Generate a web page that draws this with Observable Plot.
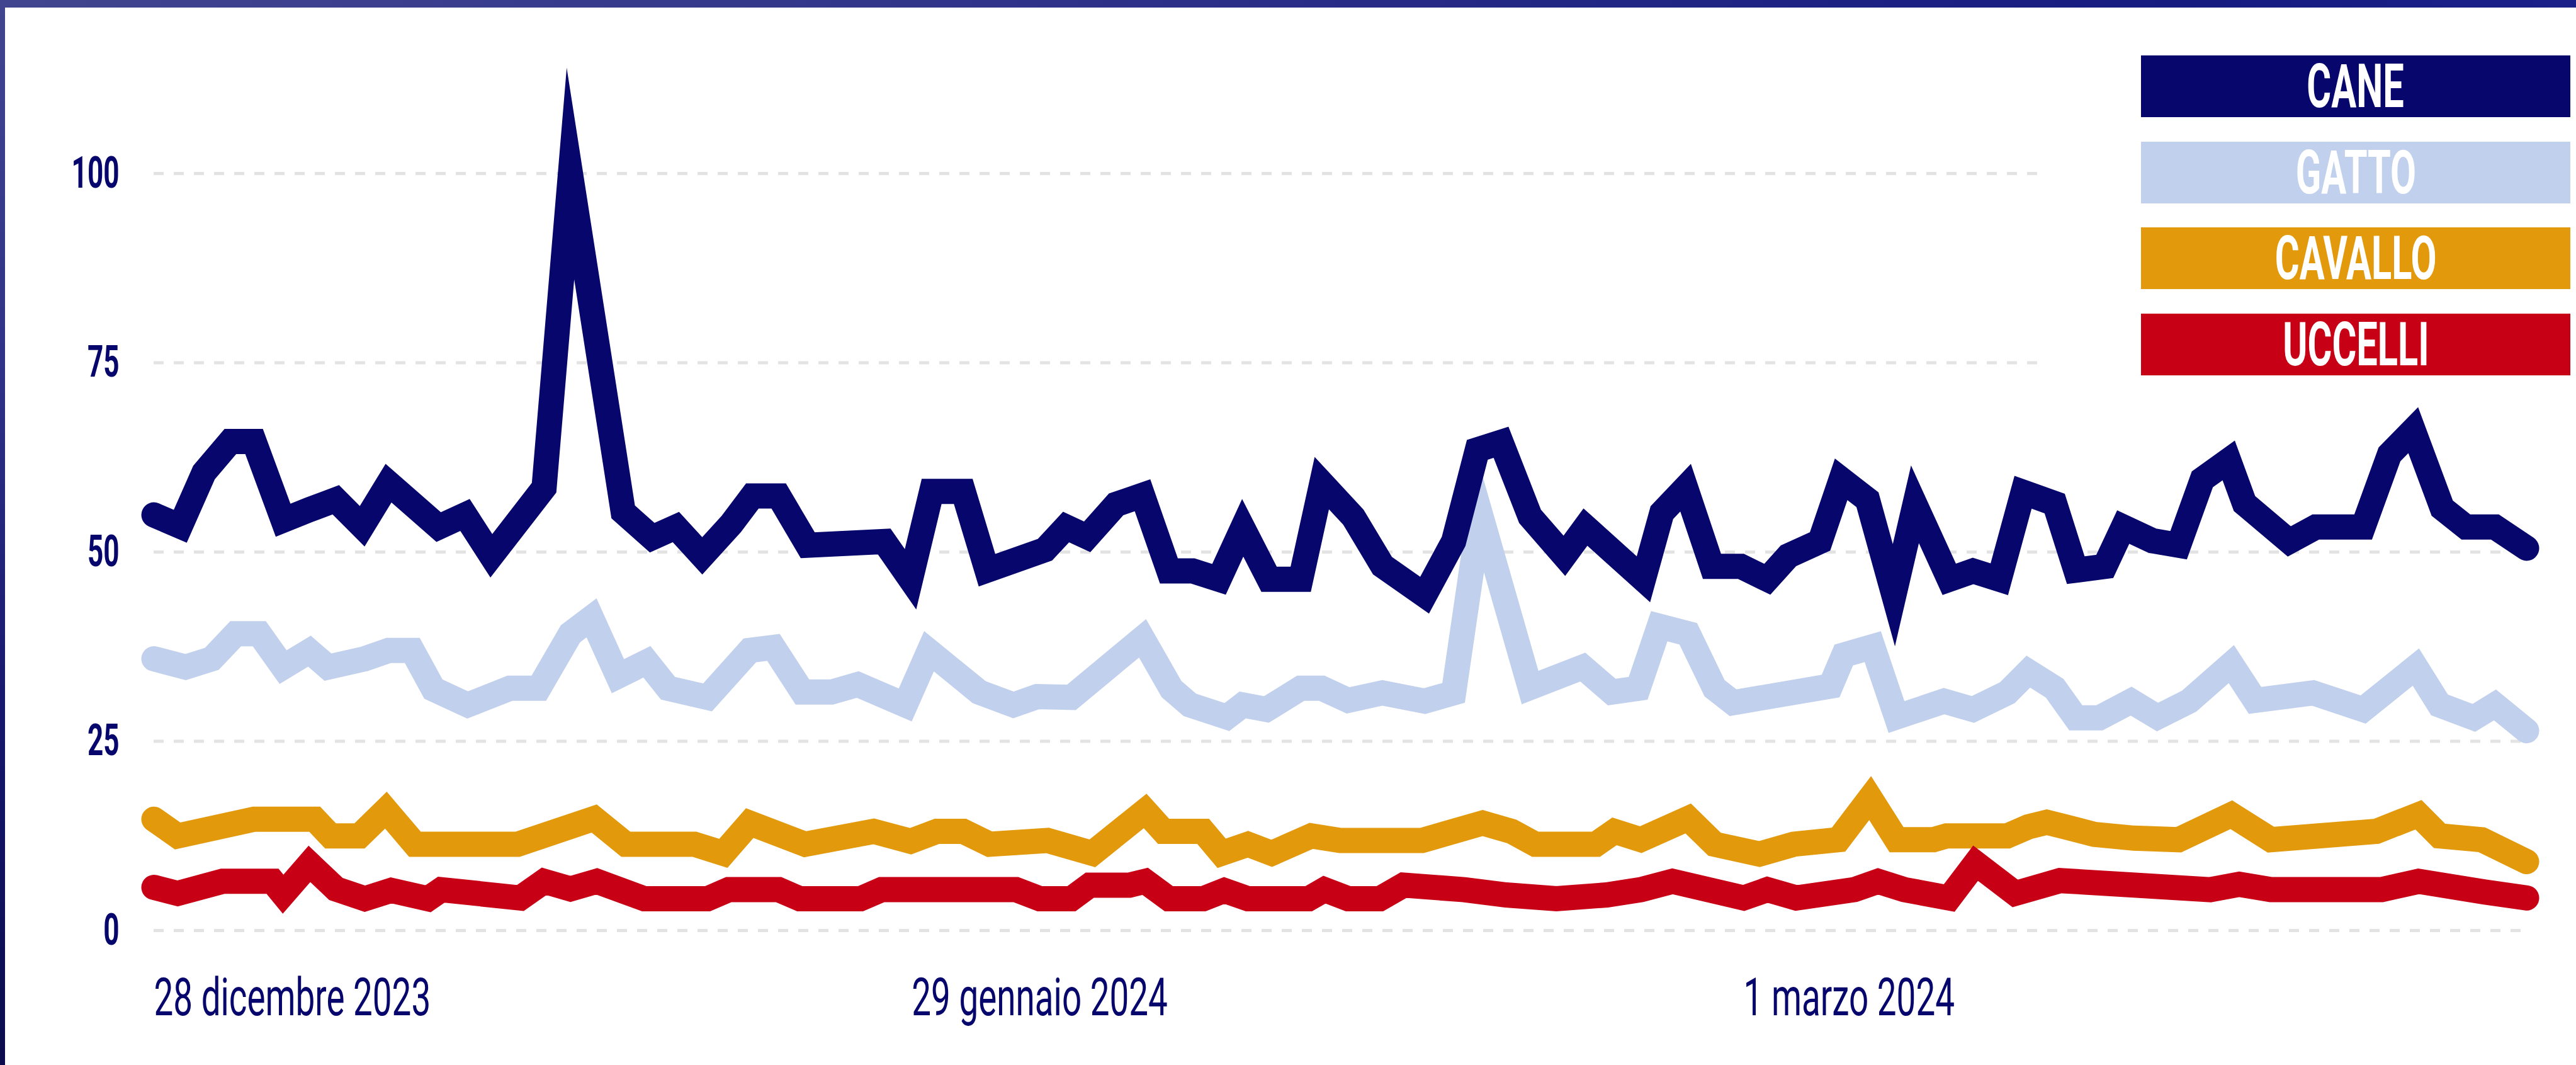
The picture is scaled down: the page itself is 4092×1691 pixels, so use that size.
<!DOCTYPE html>
<html>
<head>
<meta charset="utf-8">
<script src="https://cdn.jsdelivr.net/npm/d3@7"></script>
<script src="https://cdn.jsdelivr.net/npm/@observablehq/plot@0.6"></script>
<style>
  html, body { margin: 0; padding: 0; }
  body { width: 4092px; height: 1691px; position: relative; overflow: hidden; background: #ffffff; font-family: Roboto, sans-serif; }
  #chart { position: absolute; left: 0; top: 0; }
  #topbar { position: absolute; left: 0; top: 0; width: 4092px; height: 12px;
    background: linear-gradient(90deg, #41458f 0%, #34388b 30%, #232784 60%, #161b80 85%, #1a2088 100%); }
  #leftbar { position: absolute; left: 0; top: 0; width: 8px; height: 1691px;
    background: linear-gradient(180deg, #41458f 0%, #2e3186 35%, #15156a 70%, #0b0b4d 100%); }
  #legend { position: absolute; left: 3240px; top: 12px; width: 852px; height: 612px; background: #ffffff;
    box-sizing: border-box; padding: 76px 0 0 161px; display: flex; flex-direction: column; gap: 38.5px; }
  #legend .box { width: 682px; height: 98px; display: flex; align-items: center; justify-content: center; }
  #legend .box span { display: inline-block; color: #ffffff; font: 700 96px/98px Roboto, sans-serif;
    transform: scaleX(0.62); white-space: nowrap; }
</style>
</head>
<body>
<div id="chart"></div>
<div id="legend"></div>
<div id="topbar"></div>
<div id="leftbar"></div>
<script>
// Days elapsed since 28 December 2023 and values (index 0-100)
const caneGiorni = [0,1.0,1.9,2.9,3.8,4.9,5.9,6.9,7.9,8.9,10.8,11.8,12.8,14.8,15.8,17.8,18.9,19.8,20.8,21.9,22.7,23.7,24.8,27.7,28.7,29.5,30.7,31.6,33.8,34.6,35.4,36.5,37.5,38.5,39.4,40.4,41.3,42.3,43.5,44.3,45.5,46.6,48.2,49.3,50.2,51.1,52.2,53.5,54.3,56.5,57.2,58.1,59.1,60.2,61.2,62.0,63.2,64.0,65.0,66.0,66.8,68.1,69.0,70.0,70.9,72.1,72.9,74.0,74.7,75.8,76.8,77.7,78.7,79.3,81.0,82.0,83.8,84.8,85.7,86.8,87.7,88.8,90.0];
const caneValori = [54.9,53.4,60.5,64.6,64.6,54.2,55.6,56.9,53.4,59.1,53.3,54.9,49.5,58.5,100,55.3,51.9,53.3,49.5,53.7,57.4,57.4,50.9,51.4,46.4,58,58,47.6,50.3,53.3,52.0,56.3,57.5,47.5,47.5,46.4,53.2,46.4,46.4,59.1,54.6,48.2,44.3,51.4,63.5,64.5,54.7,49.5,53.3,46.4,55.2,58.5,48.1,48.1,46.4,49.5,51.4,59.6,56.9,44.3,56.3,46.4,47.5,46.4,57.9,56.4,47.6,48.1,53.3,51.5,50.9,59.6,62.1,56.4,51.4,53.3,53.3,62.9,66.1,55.8,53.3,53.3,50.5];

const gattoGiorni = [0,1.2,2.2,3.1,4.0,4.9,5.9,6.6,8.0,8.9,9.8,10.6,11.9,13.5,14.6,15.8,16.6,17.6,18.7,19.5,21.0,22.6,23.5,24.6,25.7,26.7,28.5,29.4,31.3,32.6,33.5,34.8,37.5,38.6,39.3,40.7,41.3,42.2,43.5,44.3,45.3,46.6,48.2,49.3,50.3,52.2,54.2,55.3,56.3,57.1,58.2,59.2,59.9,63.6,64.1,65.2,66.1,67.9,69.0,70.3,71.1,72.1,72.9,73.8,75.0,76.0,77.2,78.8,79.7,81.9,83.8,85.8,86.7,88.0,88.8,90.0];
const gattoValori = [35.9,34.8,35.9,39.2,39.2,34.8,36.9,34.8,35.9,37.0,37.0,31.9,29.8,32.0,32.0,39.2,41.3,33.6,35.5,32.0,30.8,37.0,37.4,31.5,31.5,32.5,29.8,36.9,31.5,29.8,30.9,30.8,38.6,31.9,29.8,28.2,29.8,29.2,32.0,32.0,30.4,31.4,30.3,31.4,55.2,32.1,34.8,31.5,32.0,40.2,39.2,32.0,30.1,32.3,36.4,37.5,28.2,30.3,29.2,31.4,34.2,32.0,28.1,28.1,30.3,28.2,30.3,35.2,30.4,31.4,29.2,34.8,29.8,28.1,29.8,26.4];

const cavalloGiorni = [0,0.9,3.8,6.1,6.7,7.8,8.8,9.9,13.8,16.7,17.9,20.5,21.6,22.6,24.7,27.3,28.7,29.7,30.7,31.7,33.9,35.6,37.6,38.3,39.8,40.5,41.5,42.4,43.9,45.0,48.1,50.4,51.5,52.4,54.7,55.4,56.4,58.2,59.2,60.9,62.2,63.9,65.1,66.1,67.5,68.0,70.3,71.1,71.8,72.5,73.6,75.1,76.8,78.8,80.3,84.3,85.9,86.7,88.3,90.0];
const cavalloValori = [14.7,12.5,14.7,14.7,12.5,12.5,15.9,11.4,11.4,14.8,11.4,11.4,10.2,14.2,11.4,13.1,11.8,13.1,13.1,11.4,11.9,10.2,15.8,13.1,13.1,10.2,11.4,10.2,12.5,11.9,11.9,14.2,13.1,11.4,11.4,13.1,12.0,14.8,11.4,10.1,11.4,12.0,17.5,12.0,12.0,12.5,12.5,13.7,14.3,13.7,12.7,12.2,12.0,15.3,12.0,13.1,15.3,12.5,12.0,9.1];

const uccelliGiorni = [0,0.9,2.6,4.5,4.9,5.9,6.9,8.0,9.0,10.4,10.9,13.9,14.8,15.8,16.8,18.6,21.0,21.8,23.7,24.5,26.8,27.6,32.7,33.6,34.8,35.5,37.0,37.6,38.5,39.8,40.6,41.5,43.8,44.4,45.3,46.5,47.4,49.7,51.3,53.2,55.1,56.4,57.6,60.3,61.2,62.3,64.5,65.4,66.4,68.1,69.1,70.6,72.3,78.0,79.1,80.3,84.5,85.9,88.4,90.0];
const uccelliValori = [5.7,4.9,6.5,6.5,4.8,8.8,5.5,4.2,5.3,4.2,5.4,4.3,6.5,5.5,6.5,4.2,4.2,5.4,5.4,4.2,4.2,5.4,5.4,4.2,4.2,6.0,6.0,6.5,4.2,4.2,5.3,4.2,4.2,5.4,4.2,4.2,6.0,5.4,4.7,4.2,4.7,5.4,6.5,4.3,5.4,4.3,5.4,6.5,5.4,4.3,8.9,4.9,6.6,5.4,6.1,5.4,5.4,6.5,5.1,4.3];

const nomiSerie = ["CANE", "GATTO", "CAVALLO", "UCCELLI"];
const coloriSerie = ["#06066c", "#c1d0ec", "#e2990b", "#c80016"];

const yTicks = [0, 25, 50, 75, 100];
const xTickGiorni = [0, 33.6, 64.3];
const xTickLabels = ["28 dicembre 2023", "29 gennaio 2024", "1 marzo 2024"];

const navy = "#06066c";
const datiSerie = {
  CANE: [caneGiorni, caneValori],
  GATTO: [gattoGiorni, gattoValori],
  CAVALLO: [cavalloGiorni, cavalloValori],
  UCCELLI: [uccelliGiorni, uccelliValori]
};
const rows = (nome) => {
  const [g, v] = datiSerie[nome];
  return g.map((d, i) => ({serie: nome, giorno: d, valore: v[i]}));
};
const colore = (nome) => coloriSerie[nomiSerie.indexOf(nome)];
const ordineDisegno = ["CAVALLO", "UCCELLI", "GATTO", "CANE"];
const fmtX = (d) => xTickLabels[xTickGiorni.indexOf(d)];

const chart = Plot.plot({
  width: 4092,
  height: 1691,
  marginLeft: 244,
  marginRight: 79,
  marginTop: 275,
  marginBottom: 214,
  style: {background: "transparent", fontFamily: "Roboto, sans-serif", overflow: "visible"},
  x: {type: "linear", domain: [0, 90], axis: null, label: null},
  y: {domain: [0, 100], axis: null, label: null},
  marks: [
    Plot.gridY(yTicks, {stroke: "#e3e3e3", strokeOpacity: 1, strokeWidth: 5, strokeDasharray: "16,16"}),
    Plot.axisY(yTicks, {anchor: "left", tickSize: 0, tickPadding: 55, fontSize: 70, fontWeight: 700, color: navy, label: null, ariaLabel: "asse-y"}),
    Plot.axisX([xTickGiorni[0]], {anchor: "bottom", tickSize: 0, tickPadding: 76, fontSize: 83, textAnchor: "start", color: navy, label: null, tickFormat: fmtX}),
    Plot.axisX(xTickGiorni.slice(1), {anchor: "bottom", tickSize: 0, tickPadding: 76, fontSize: 83, textAnchor: "middle", color: navy, label: null, tickFormat: fmtX}),
    ...ordineDisegno.map((nome) => Plot.line(rows(nome), {
      x: "giorno", y: "valore", stroke: colore(nome), strokeWidth: 40,
      strokeLinejoin: "miter", strokeMiterlimit: 20, strokeLinecap: "round", curve: "linear"
    }))
  ]
});

// condensed look: horizontal squeeze around each text anchor
chart.querySelectorAll("text").forEach((t) => {
  const isDate = xTickLabels.includes(t.textContent.trim());
  const s = isDate ? 0.66 : 0.63;
  const xa = t.getAttribute("x");
  let tr = t.getAttribute("transform") || "";
  if (xa !== null && !isNaN(+xa)) {
    tr += ` translate(${+xa},0)`;
    t.removeAttribute("x");
  }
  t.setAttribute("transform", `${tr} scale(${s},1)`);
});

document.getElementById("chart").appendChild(chart);

const legend = document.getElementById("legend");
nomiSerie.forEach((nome, i) => {
  const box = document.createElement("div");
  box.className = "box";
  box.style.background = coloriSerie[i];
  const span = document.createElement("span");
  span.textContent = nome;
  box.appendChild(span);
  legend.appendChild(box);
});
</script>
</body>
</html>
